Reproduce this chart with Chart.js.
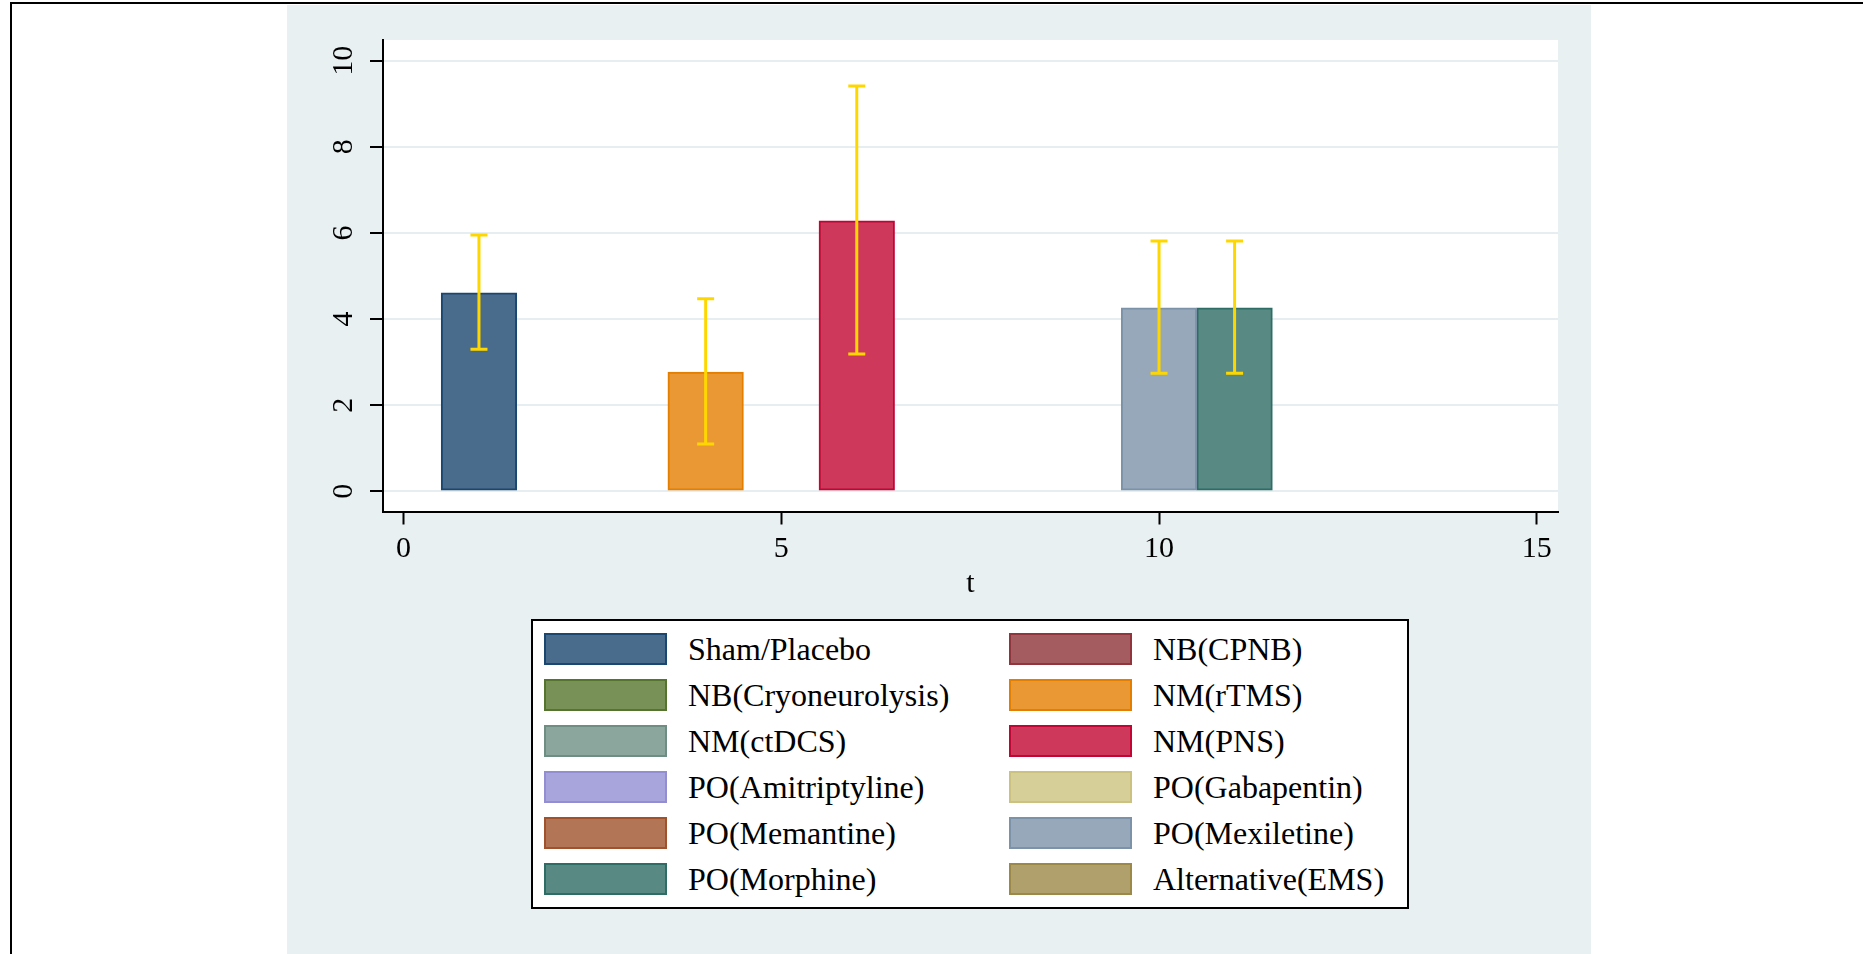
<!DOCTYPE html>
<html lang="en">
<head>
  <meta charset="UTF-8">
  <title>Mean and CI by treatment</title>
  <script src="https://cdn.jsdelivr.net/npm/chart.js"></script>
  <style>
    body { margin: 0; background: #fff; font-family: "Liberation Serif", "Times New Roman", serif; }
    #frame { position: absolute; left: 10px; top: 2px; right: 0; bottom: 0; border-top: 2px solid #000; border-left: 2px solid #000; }
    #panel { position: absolute; left: 287px; top: 5px; width: 1304px; height: 949px; background: #e9f0f2; }
    #plot { position: absolute; left: 0; top: 1px; }
    #legend {
      position: absolute; left: 244px; top: 614px; width: 878px; height: 290px;
      box-sizing: border-box; border: 2px solid #000; background: #fff;
      display: grid; grid-template-columns: 465px 465px; grid-auto-rows: 46px;
      padding: 5px 0 0 11px;
    }
    .item { display: flex; align-items: center; font-size: 32px; color: #000; white-space: nowrap; }
    .swatch { width: 123px; height: 32px; box-sizing: border-box; border: 2px solid; margin-right: 21px; }
  </style>
</head>
<body>

<div id="frame"></div>
<div id="panel">
  <canvas id="plot" width="1304" height="600"></canvas>
  <div id="legend"></div>
</div>

<script>
// groups in legend order, plotted at t = 1..12
const groups = ['Sham/Placebo', 'NB(CPNB)', 'NB(Cryoneurolysis)', 'NM(rTMS)', 'NM(ctDCS)', 'NM(PNS)',
  'PO(Amitriptyline)', 'PO(Gabapentin)', 'PO(Memantine)', 'PO(Mexiletine)', 'PO(Morphine)', 'Alternative(EMS)'];
const tPos = [1, 2, 3, 4, 5, 6, 7, 8, 9, 10, 11, 12];
const means = [4.61, null, null, 2.77, null, 6.28, null, null, null, 4.26, 4.26, null];
const ciLow = [3.30, null, null, 1.10, null, 3.19, null, null, null, 2.74, 2.74, null];
const ciHigh = [5.95, null, null, 4.47, null, 9.41, null, null, null, 5.81, 5.81, null];

const xTicks = [0, 5, 10, 15];
const yTicks = [0, 2, 4, 6, 8, 10];

const fills = ['#4a6c8c', '#a55c60', '#779156', '#ea9834', '#8ba69c', '#cd385b',
  '#a8a4dc', '#d6cf98', '#b27657', '#96a8b9', '#588a83', '#b0a16c'];
const edges = ['#1a476f', '#90353b', '#55752f', '#e37e00', '#6e8e84', '#c10534',
  '#938dd2', '#cac27e', '#a0522d', '#7b92a8', '#2d6d66', '#9c8847'];

const serif = { family: '"Liberation Serif", "Times New Roman", serif', size: 30 };

// white plot region
const plotBg = {
  id: 'plotBg',
  beforeDraw(chart) {
    const { ctx, chartArea: a } = chart;
    ctx.save();
    ctx.fillStyle = '#fff';
    ctx.fillRect(a.left, a.top, a.right - a.left, a.bottom - a.top);
    ctx.restore();
  }
};

// capped CI lines
const errorBars = {
  id: 'errorBars',
  afterDatasetsDraw(chart) {
    const { ctx, scales: { x, y } } = chart;
    ctx.save();
    ctx.strokeStyle = '#ffd700';
    ctx.lineWidth = 3;
    means.forEach((m, i) => {
      if (m === null) return;
      const px = x.getPixelForValue(tPos[i]);
      const hi = y.getPixelForValue(ciHigh[i]);
      const lo = y.getPixelForValue(ciLow[i]);
      ctx.beginPath();
      ctx.moveTo(px, hi); ctx.lineTo(px, lo);
      ctx.moveTo(px - 8.5, hi); ctx.lineTo(px + 8.5, hi);
      ctx.moveTo(px - 8.5, lo); ctx.lineTo(px + 8.5, lo);
      ctx.stroke();
    });
    ctx.restore();
  }
};

new Chart(document.getElementById('plot'), {
  type: 'bar',
  data: {
    datasets: groups.map((g, i) => ({
      label: g,
      data: means[i] === null ? [] : [{ x: tPos[i], y: means[i] }],
      backgroundColor: fills[i],
      borderColor: edges[i],
      borderWidth: 2,
      borderSkipped: false,
      grouped: false,
      categoryPercentage: 1,
      barPercentage: 1
    }))
  },
  options: {
    responsive: false,
    animation: false,
    layout: { padding: { left: 0, right: 33, top: 34, bottom: 0 } },
    plugins: { legend: { display: false }, tooltip: { enabled: false } },
    scales: {
      x: {
        type: 'linear',
        offset: false,
        min: -0.27,
        max: 15.28,
        afterBuildTicks: s => { s.ticks = xTicks.map(v => ({ value: v })); },
        afterFit: s => { s.height = 94.5; },
        grid: { offset: false, drawOnChartArea: false, tickLength: 13, tickColor: '#000', tickWidth: 2 },
        border: { display: true, color: '#000', width: 2 },
        ticks: { color: '#000', font: serif, padding: 7, maxRotation: 0 },
        title: { display: true, text: 't', color: '#000', font: serif, padding: { top: 0, bottom: 4 } }
      },
      y: {
        min: -0.47,
        max: 10.48,
        afterBuildTicks: s => { s.ticks = yTicks.map(v => ({ value: v })); },
        afterFit: s => { s.width = 96; },
        grid: { color: '#e6eef1', lineWidth: 2, tickLength: 13, tickColor: '#000', tickWidth: 2 },
        border: { display: true, color: '#000', width: 2 },
        ticks: { color: '#000', font: serif, padding: 11, minRotation: 90, maxRotation: 90, crossAlign: 'center' }
      }
    }
  },
  plugins: [plotBg, errorBars]
});

// two-column legend box below the plot
const legend = document.getElementById('legend');
groups.forEach((g, i) => {
  const item = document.createElement('div');
  item.className = 'item';
  const sw = document.createElement('span');
  sw.className = 'swatch';
  sw.style.background = fills[i];
  sw.style.borderColor = edges[i];
  const label = document.createElement('span');
  label.textContent = g;
  item.appendChild(sw);
  item.appendChild(label);
  legend.appendChild(item);
});
</script>

</body>
</html>
